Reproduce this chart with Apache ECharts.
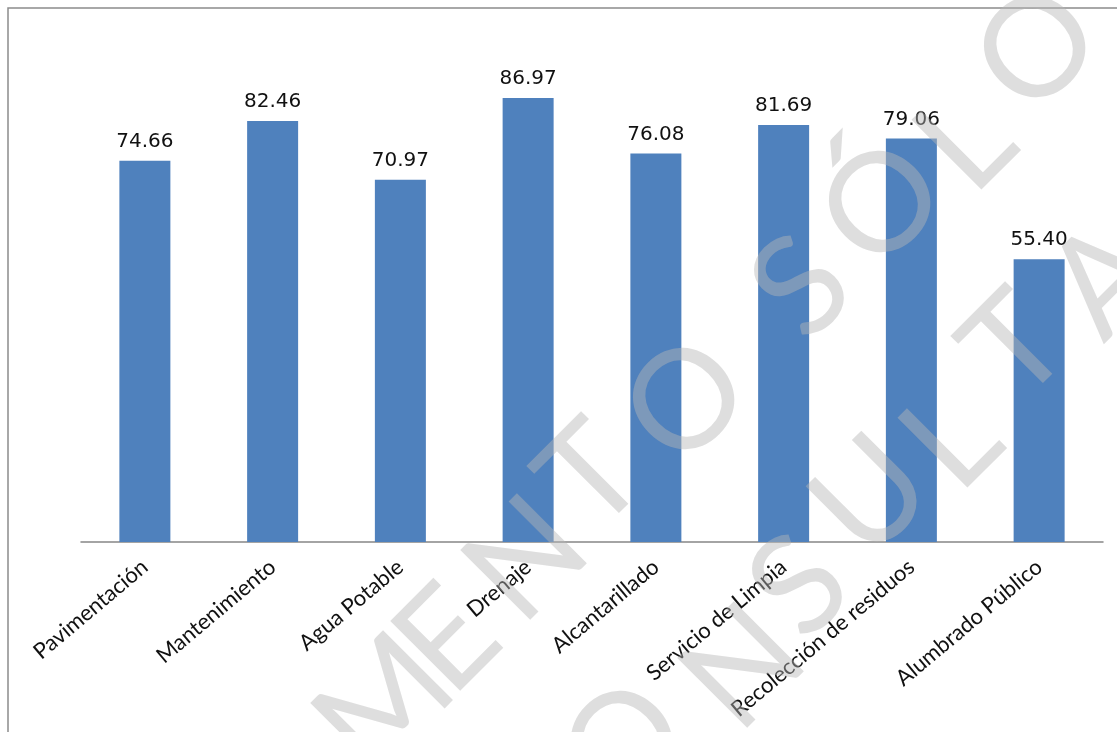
<!DOCTYPE html>
<html>
<head>
<meta charset="utf-8">
<script src="https://cdn.jsdelivr.net/npm/echarts@6/dist/echarts.min.js"></script>
<style>
html,body{margin:0;padding:0;background:#fff;}
#chart{width:1117px;height:732px;}
</style>
</head>
<body>
<div id="chart"></div>
<script>
const categories = ['Pavimentación','Mantenimiento','Agua Potable','Drenaje','Alcantarillado','Servicio de Limpia','Recolección de residuos','Alumbrado Público'];
const values = [74.66, 82.46, 70.97, 86.97, 76.08, 81.69, 79.06, 55.40];

// decorative watermark letters (text, centre x, centre y)
const watermarkLetters = [
  ['M',385,705],['E',448,640],['N',527,560],['T',592,477],['O',687,402],
  ['S',802,288],['Ó',883,205],['L',966,142],['O',1038,50],
  ['O',625,745],['N',744,668],['S',800,587],['U',872,497],['L',952,440],['T',1016,347],['A',1105,280]
];

const chart = echarts.init(document.getElementById('chart'));
const graphic = [{
  type:'rect', x:0, y:0, silent:true, z:-1,
  shape:{x:8,y:8,width:1200,height:800},
  style:{fill:'none', stroke:'#8c8c8c', lineWidth:1.5}
}];
watermarkLetters.forEach(function(l){
  graphic.push({
    type:'text', x:l[1], y:l[2], rotation:Math.PI/4, z:100, silent:true,
    style:{text:l[0], fontFamily:'Lato', fontWeight:400, fontSize:138, fill:'rgba(181,181,181,0.45)', align:'center', verticalAlign:'middle'}
  });
});

chart.setOption({
  animation:false,
  backgroundColor:'#fff',
  grid:{left:81, right:14, top:31.5, bottom:190, containLabel:false},
  xAxis:{
    type:'category', data:categories,
    axisLine:{lineStyle:{color:'#868686', width:1.5}},
    axisTick:{show:false},
    axisLabel:{rotate:40, margin:22, interval:0, color:'#111', fontFamily:'Lato', fontSize:22}
  },
  yAxis:{type:'value', min:0, max:100, show:false, splitLine:{show:false}},
  series:[{
    type:'bar', data:values, barWidth:51,
    itemStyle:{color:'#4F81BD'},
    label:{show:true, position:'top', distance:9, color:'#111', fontFamily:'DejaVu Sans', fontSize:20,
      formatter:function(p){return p.value.toFixed(2);}}
  }],
  graphic:graphic
});
</script>
</body>
</html>
